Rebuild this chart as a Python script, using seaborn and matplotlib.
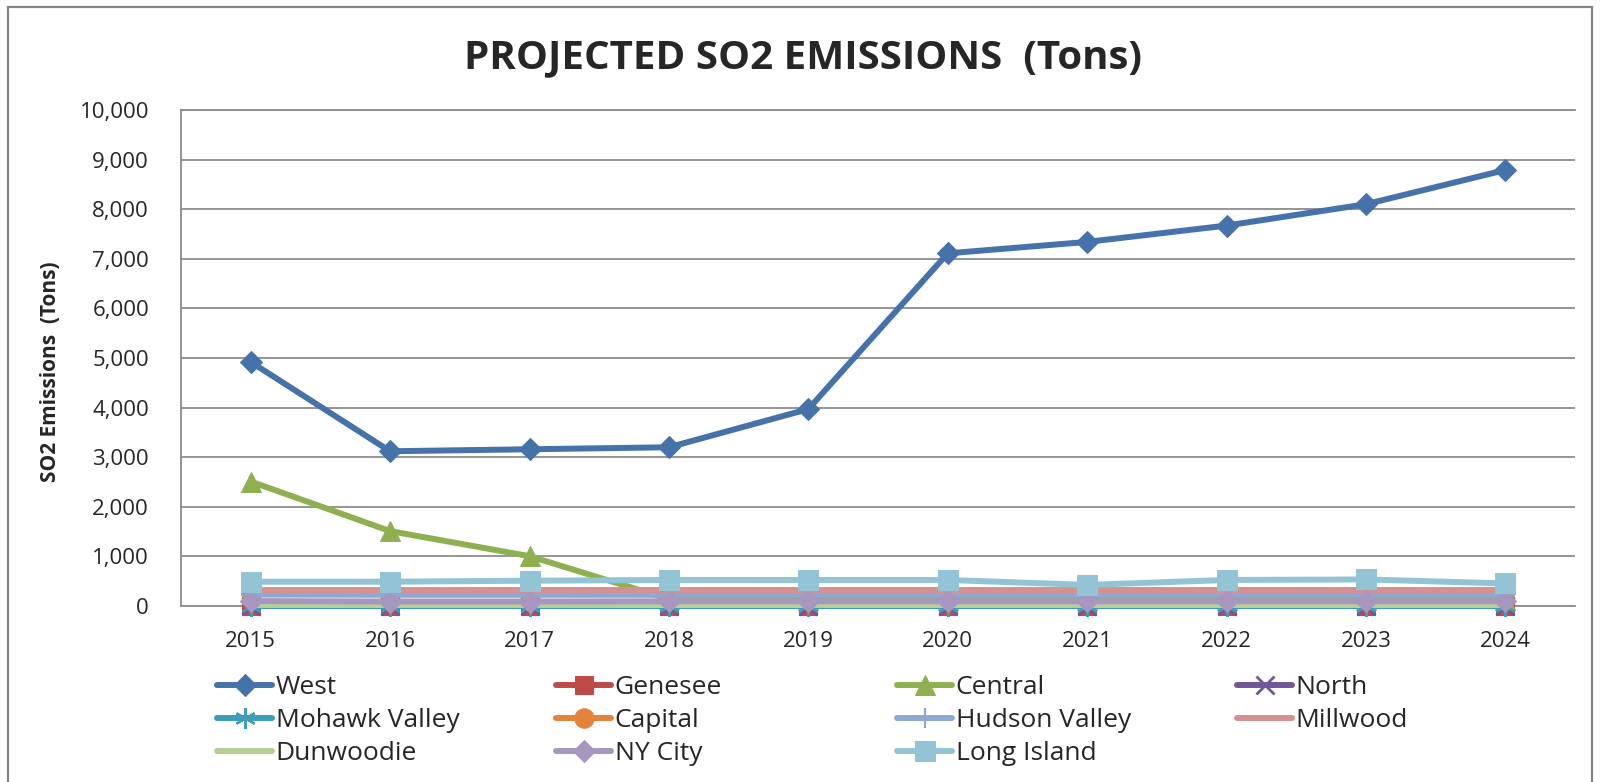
import matplotlib
matplotlib.use("Agg")
import matplotlib.pyplot as plt
import seaborn as sns
import pandas as pd
from matplotlib.patches import Rectangle
from matplotlib.ticker import StrMethodFormatter

# Values (tons)
years = [2015, 2016, 2017, 2018, 2019, 2020, 2021, 2022, 2023, 2024]
west = [4920, 3120, 3160, 3200, 3970, 7110, 7340, 7670, 8100, 8790]
genesee = [0, 0, 0, 0, 0, 0, 0, 0, 0, 0]
central = [2510, 1510, 1005, 140, 130, 130, 130, 130, 130, 130]
north = [0, 0, 0, 0, 0, 0, 0, 0, 0, 0]
mohawk_valley = [0, 0, 0, 0, 0, 0, 0, 0, 0, 0]
capital = [290, 290, 290, 290, 290, 290, 290, 290, 290, 290]
hudson_valley = [230, 225, 225, 225, 225, 225, 225, 225, 225, 225]
millwood = [330, 330, 330, 330, 330, 330, 330, 330, 330, 330]
dunwoodie = [20, 20, 20, 20, 20, 20, 20, 20, 20, 20]
ny_city = [100, 90, 90, 95, 95, 95, 95, 95, 95, 95]
long_island = [490, 490, 510, 525, 525, 525, 425, 525, 535, 455]

series_names = ["West", "Genesee", "Central", "North", "Mohawk Valley", "Capital",
                "Hudson Valley", "Millwood", "Dunwoodie", "NY City", "Long Island"]

df = pd.DataFrame({
    "West": west, "Genesee": genesee, "Central": central, "North": north,
    "Mohawk Valley": mohawk_valley, "Capital": capital, "Hudson Valley": hudson_valley,
    "Millwood": millwood, "Dunwoodie": dunwoodie, "NY City": ny_city,
    "Long Island": long_island,
}, index=years)

colors = {
    "West": "#4672AA", "Genesee": "#BE4B48", "Central": "#8FB050", "North": "#70579A",
    "Mohawk Valley": "#3E9DB8", "Capital": "#E2843C", "Hudson Valley": "#8EA8D3",
    "Millwood": "#D59190", "Dunwoodie": "#B7CF92", "NY City": "#A797BF",
    "Long Island": "#92C4D6",
}
marker_kw = {
    "West": dict(marker="D", markersize=11),
    "Genesee": dict(marker="s", markersize=13),
    "Central": dict(marker="^", markersize=15),
    "North": dict(marker="x", markersize=13, markeredgewidth=2),
    "Mohawk Valley": dict(marker=(6, 2, 0), markersize=15, markeredgewidth=1.6),
    "Capital": dict(marker="o", markersize=14),
    "Hudson Valley": dict(marker="+", markersize=15, markeredgewidth=1.6),
    "Millwood": dict(),
    "Dunwoodie": dict(),
    "NY City": dict(marker="D", markersize=11),
    "Long Island": dict(marker="s", markersize=14),
}

sns.set_style("white")
plt.rcParams['font.family'] = ['Open Sans', 'DejaVu Sans']

fig = plt.figure(figsize=(16, 7.82), dpi=100)
ax = fig.add_axes([181 / 1600, 176 / 782, 1394 / 1600, 496 / 782])

xpos = list(range(len(years)))
handles = {}
for i, name in enumerate(series_names):
    kw = dict(marker_kw[name])
    if "marker" in kw:
        kw["markeredgecolor"] = colors[name]
        kw["markerfacecolor"] = colors[name]
    sns.lineplot(x=xpos, y=df[name].values, ax=ax, color=colors[name],
                 linewidth=4.3, **kw)
    ln = ax.get_lines()[-1]
    ln.set_clip_on(False)
    ln.set_zorder(3 + i)
    ln.set_solid_capstyle("round")
    handles[name] = ln

grid_col = "#8C8C8C"
ax.set_xlim(-0.5, 9.5)
ax.set_ylim(0, 10000)
ax.set_yticks(range(0, 10001, 1000))
ax.yaxis.set_major_formatter(StrMethodFormatter("{x:,.0f}"))
ax.set_xticks(xpos, [str(y) for y in years])
ax.set_axisbelow(True)
ax.yaxis.grid(True, color=grid_col, linewidth=1.3)
ax.xaxis.grid(False)
for side in ["left", "bottom", "top"]:
    ax.spines[side].set_color(grid_col)
    ax.spines[side].set_linewidth(1.3)
ax.spines["right"].set_visible(False)
ax.tick_params(axis="y", length=0, labelsize=16, pad=23)
ax.tick_params(axis="x", length=0, labelsize=16, pad=18)
ax.set_xlabel("")
ax.set_ylabel("")

fig.text(803 / 1600, 1 - 58 / 782, "PROJECTED SO2 EMISSIONS  (Tons)",
         ha="center", va="center", fontsize=29, fontweight="bold")
fig.text(51 / 1600, 1 - 372 / 782, "SO2 Emissions  (Tons)", rotation=90,
         ha="center", va="center", fontsize=15, fontweight="bold")

# legend laid out row by row like the original, one legend per column
legend_cols = [["West", "Mohawk Valley", "Dunwoodie"],
               ["Genesee", "Capital", "NY City"],
               ["Central", "Hudson Valley", "Long Island"],
               ["North", "Millwood"]]
col_x = [217, 556, 897, 1237]
for names, cx in zip(legend_cols, col_x):
    fig.legend([handles[n] for n in names], names, loc="upper left",
               bbox_to_anchor=(cx / 1600, 1 - 675 / 782), frameon=False,
               fontsize=19, handlelength=2.1, handletextpad=0.12,
               borderpad=0, borderaxespad=0, labelspacing=0.3)

fig.patches.append(Rectangle((8 / 1600, -0.05), 1584 / 1600, 1 - 7 / 782 + 0.05,
                             transform=fig.transFigure, fill=False,
                             edgecolor="#868686", linewidth=1.6))

fig.savefig("out.png", dpi=100)
